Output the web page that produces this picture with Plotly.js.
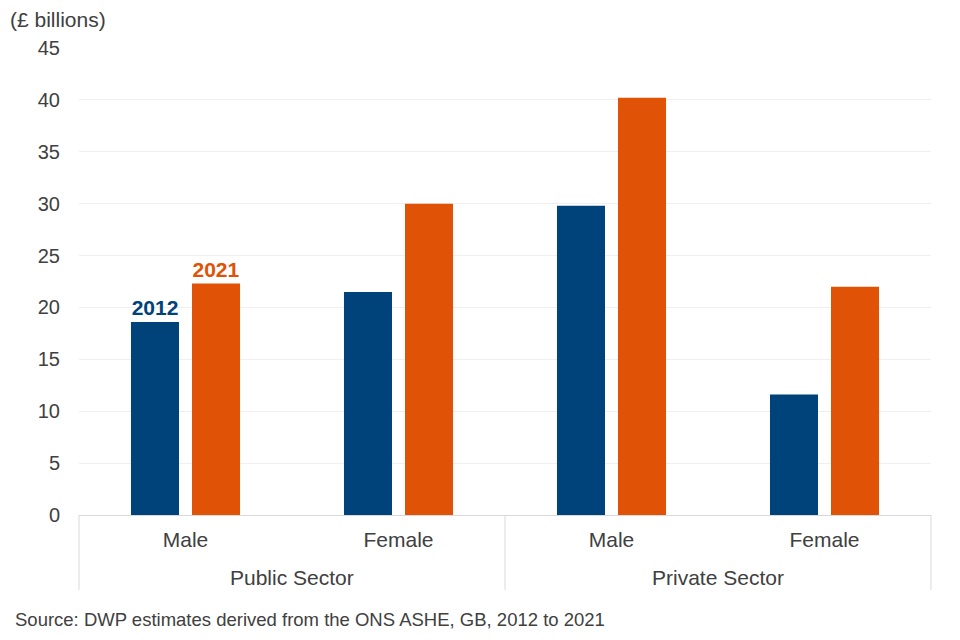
<!DOCTYPE html>
<html>
<head>
<meta charset="utf-8">
<script src="https://cdn.plot.ly/plotly-3.0.1.min.js"></script>
<style>html,body{margin:0;padding:0;background:#fff;}#chart{width:960px;height:640px;}</style>
</head>
<body>
<div id="chart"></div>
<script>
const sectors = ["Public Sector", "Public Sector", "Private Sector", "Private Sector"];
const genders = ["Male", "Female", "Male", "Female"];
const sectorNames = ["Public Sector", "Private Sector"];
const values2012 = [18.6, 21.5, 29.8, 11.6];
const values2021 = [22.3, 30.0, 40.2, 22.0];
const labels2012 = ["2012", "", "", ""];
const labels2021 = ["2021", "", "", ""];
const yTicks = [0, 5, 10, 15, 20, 25, 30, 35, 40, 45];

const FONT = "Liberation Sans, Arial, sans-serif";
const BLUE = "#00427A";
const ORANGE = "#E05206";
const LINE = "#d9d9d9";

const cats = sectors.map((s, i) => s + " | " + genders[i]);

const traces = [
  {
    type: "bar", name: "2012", x: cats, y: values2012,
    marker: {color: BLUE},
    text: labels2012, textposition: "outside", cliponaxis: false,
    textfont: {family: FONT, size: 21, color: BLUE, weight: "bold"},
    hoverinfo: "y"
  },
  {
    type: "bar", name: "2021", x: cats, y: values2021,
    marker: {color: ORANGE},
    text: labels2021, textposition: "outside", cliponaxis: false,
    textfont: {family: FONT, size: 21, color: ORANGE, weight: "bold"},
    hoverinfo: "y"
  }
];

const nGroups = sectorNames.length;
const shapes = [];
for (let i = 0; i <= nGroups; i++) {
  shapes.push({type: "line", xref: "paper", yref: "paper",
    x0: i / nGroups, x1: i / nGroups, y0: 0, y1: -0.1606,
    line: {color: LINE, width: 1}});
}
const sectorAnnots = sectorNames.map((s, i) => ({
  text: s, xref: "paper", yref: "paper", x: (i + 0.5) / nGroups, y: -0.1349,
  xanchor: "center", yanchor: "middle", showarrow: false,
  font: {family: FONT, size: 21, color: "#404040"}
}));

const layout = {
  width: 960, height: 640,
  margin: {l: 79, r: 29, t: 48, b: 125},
  paper_bgcolor: "#fff", plot_bgcolor: "#fff",
  showlegend: false,
  barmode: "group",
  bargap: 0.427,
  bargroupgap: 0.213,
  font: {family: FONT, size: 21, color: "#404040"},
  xaxis: {
    type: "category",
    tickvals: cats, ticktext: genders,
    showline: true, linecolor: LINE, linewidth: 1,
    tickfont: {family: FONT, size: 21, color: "#404040"},
    ticks: "", showgrid: false, ticklabelstandoff: 6
  },
  yaxis: {
    range: [0, 45],
    tickvals: yTicks,
    showgrid: true, gridcolor: "#efefef", gridwidth: 1,
    zeroline: false, showline: false, ticks: "",
    tickfont: {family: FONT, size: 20, color: "#404040"},
    ticklabelstandoff: 18
  },
  shapes: shapes,
  annotations: sectorAnnots.concat([
    {text: "(£ billions)", xref: "paper", yref: "paper", x: -0.0837, y: 1.06,
     xanchor: "left", yanchor: "middle", showarrow: false,
     font: {family: FONT, size: 21, color: "#404040"}},
    {text: "Source: DWP estimates derived from the ONS ASHE, GB, 2012 to 2021",
     xref: "paper", yref: "paper", x: -0.0773, y: -0.2227,
     xanchor: "left", yanchor: "middle", showarrow: false,
     font: {family: FONT, size: 18.5, color: "#404040"}}
  ])
};

Plotly.newPlot("chart", traces, layout, {displayModeBar: false, staticPlot: true});
</script>
</body>
</html>
